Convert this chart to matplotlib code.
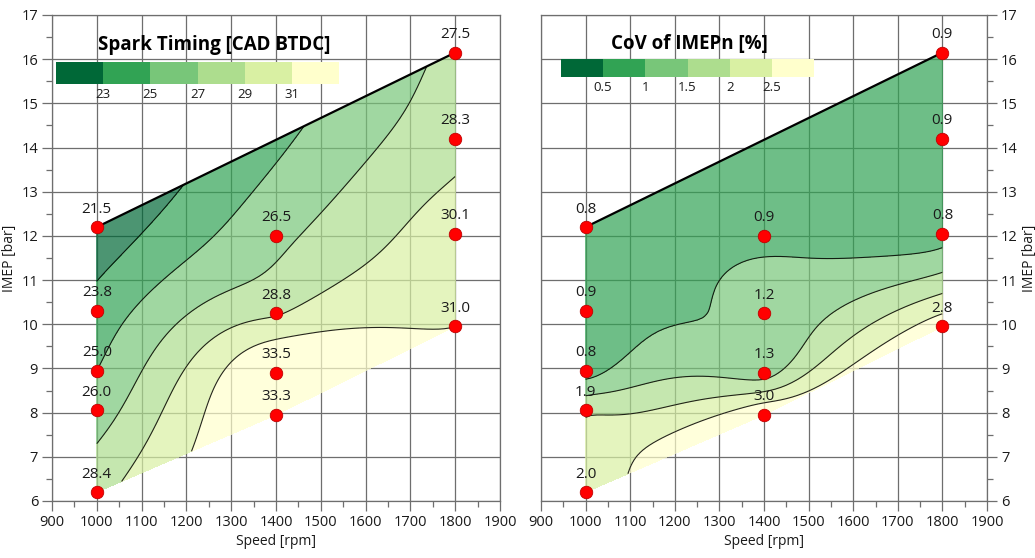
import numpy as np
import matplotlib
matplotlib.use("Agg")
import matplotlib.pyplot as plt
import matplotlib.tri as mtri
from matplotlib.colors import ListedColormap, BoundaryNorm
import matplotlib.colorbar as mcb
from matplotlib.ticker import MultipleLocator

plt.rcParams['font.family'] = ['Open Sans', 'DejaVu Sans']

# ---- data ----
speed = [1000, 1000, 1000, 1000, 1000, 1400, 1400, 1400, 1400, 1800, 1800, 1800, 1800]
imep = [6.2, 8.05, 8.95, 10.3, 12.2, 7.95, 8.9, 10.25, 12.0, 9.95, 12.05, 14.2, 16.15]
spark = [28.4, 26.0, 25.0, 23.8, 21.5, 33.3, 33.5, 28.8, 26.5, 31.0, 30.1, 28.3, 27.5]
cov = [2.0, 1.9, 0.8, 0.9, 0.8, 3.0, 1.3, 1.2, 0.9, 2.8, 0.8, 0.9, 0.9]
spark_levels = [23, 25, 27, 29, 31]
cov_levels = [0.5, 1, 1.5, 2, 2.5]
spark_ticklabels = ['23', '25', '27', '29', '31']
cov_ticklabels = ['0.5', '1', '1.5', '2', '2.5']
palette = ['#006837', '#31a354', '#78c679', '#addd8e', '#d9f0a3', '#ffffcc']

XSCALE = 100.0

fig = plt.figure(figsize=(10.35, 5.58), dpi=100)
ax1 = fig.add_axes([52/1035, 57/558, 448/1035, 486/558])
ax2 = fig.add_axes([541/1035, 57/558, 446/1035, 486/558])


def tps_surface(xs, ys, z, xe, ye):
    """Thin-plate spline surface through the measured points."""
    def kern(r):
        with np.errstate(divide='ignore', invalid='ignore'):
            k = r**2 * np.log(r)
        return np.where(r > 0, k, 0.0)
    n = len(z)
    r = np.hypot(xs[:, None] - xs[None, :], ys[:, None] - ys[None, :])
    P = np.column_stack([np.ones(n), xs, ys])
    A = np.zeros((n + 3, n + 3))
    A[:n, :n] = kern(r)
    A[:n, n:] = P
    A[n:, :n] = P.T
    b = np.concatenate([z, np.zeros(3)])
    coef = np.linalg.solve(A, b)
    w, a = coef[:n], coef[n:]
    re = np.hypot(xe[:, None] - xs[None, :], ye[:, None] - ys[None, :])
    return kern(re) @ w + a[0] + a[1] * xe + a[2] * ye


def draw_panel(ax, z, levels, title, title_pos, right=False):
    x = np.asarray(speed, float)
    y = np.asarray(imep, float)
    z = np.asarray(z, float)
    tri_s = mtri.Triangulation(x / XSCALE, y)
    refiner = mtri.UniformTriRefiner(tri_s)
    tri_r = refiner.refine_triangulation(subdiv=5)
    z_r = tps_surface(x / XSCALE, y, z, tri_r.x, tri_r.y)
    tri_p = mtri.Triangulation(tri_r.x * XSCALE, tri_r.y, tri_r.triangles)
    ax.tricontourf(tri_p, z_r, levels=levels, colors=palette, extend='both',
                   alpha=0.7, zorder=1)
    ax.tricontour(tri_p, z_r, levels=levels, colors='k', linewidths=0.8,
                  alpha=0.85, zorder=2)
    # upper hull edge
    xl, xr = x.min(), x.max()
    yl = y[x == xl].max()
    yr = y[x == xr].max()
    ax.plot([xl, xr], [yl, yr], color='k', lw=1.6, zorder=3)
    ax.plot(x, y, 'o', ms=9, color='#ff0000', mec='#c00000', mew=0.6,
            zorder=5, clip_on=False)
    for xi, yi, zi in zip(x, y, z):
        ax.annotate(f'{zi:.1f}', (xi, yi), xytext=(0, 13), textcoords='offset points',
                    ha='center', va='center', fontsize=11, color='#1a1a1a', zorder=6)

    ax.set_xlim(900, 1900)
    ax.set_ylim(6, 17)
    ax.xaxis.set_major_locator(MultipleLocator(100))
    ax.xaxis.set_minor_locator(MultipleLocator(50))
    ax.yaxis.set_major_locator(MultipleLocator(1))
    ax.yaxis.set_minor_locator(MultipleLocator(0.5))
    ax.set_axisbelow(True)
    ax.grid(which='major', color='#6e6e6e', lw=0.9, zorder=0)
    for s in ax.spines.values():
        s.set_color('#6e6e6e')
        s.set_linewidth(0.9)
    ax.tick_params(which='major', length=7, width=0.9, color='#6e6e6e',
                   labelsize=10.5, labelcolor='#1a1a1a', pad=3)
    ax.tick_params(which='minor', length=4, width=0.9, color='#6e6e6e')
    if right:
        ax.yaxis.tick_right()
        ax.yaxis.set_label_position('right')
    ax.set_xlabel('Speed [rpm]', fontsize=10, color='#1a1a1a', labelpad=3)
    ax.set_ylabel('IMEP [bar]', fontsize=10, color='#1a1a1a', labelpad=3)
    ax.text(title_pos[0], title_pos[1], title, transform=ax.transAxes,
            ha='center', va='center', fontsize=13.5, fontweight='bold', zorder=7)


draw_panel(ax1, spark, spark_levels, 'Spark Timing [CAD BTDC]', (0.3616, 0.938))
draw_panel(ax2, cov, cov_levels, 'CoV of IMEPn [%]', (0.332, 0.940), right=True)


def legend_bar(rect, levels, labels, fs):
    cax = fig.add_axes(rect)
    step = levels[1] - levels[0]
    bounds = [levels[0] - step] + list(levels) + [levels[-1] + step]
    cmap = ListedColormap(palette)
    norm = BoundaryNorm(bounds, cmap.N)
    cb = mcb.ColorbarBase(cax, cmap=cmap, norm=norm, orientation='horizontal',
                          ticks=levels, spacing='uniform')
    cb.outline.set_visible(False)
    cb.set_ticklabels(labels)
    cax.minorticks_off()
    cax.tick_params(which='both', length=0, labelsize=fs, pad=3, labelcolor='#1a1a1a')
    cax.set_zorder(8)


legend_bar([56/1035, (558-84)/558, 283/1035, 22/558], spark_levels, spark_ticklabels, 9.5)
legend_bar([561/1035, (558-76.7)/558, 253/1035, 17.4/558], cov_levels, cov_ticklabels, 9.5)

fig.savefig('out.png', dpi=100)
